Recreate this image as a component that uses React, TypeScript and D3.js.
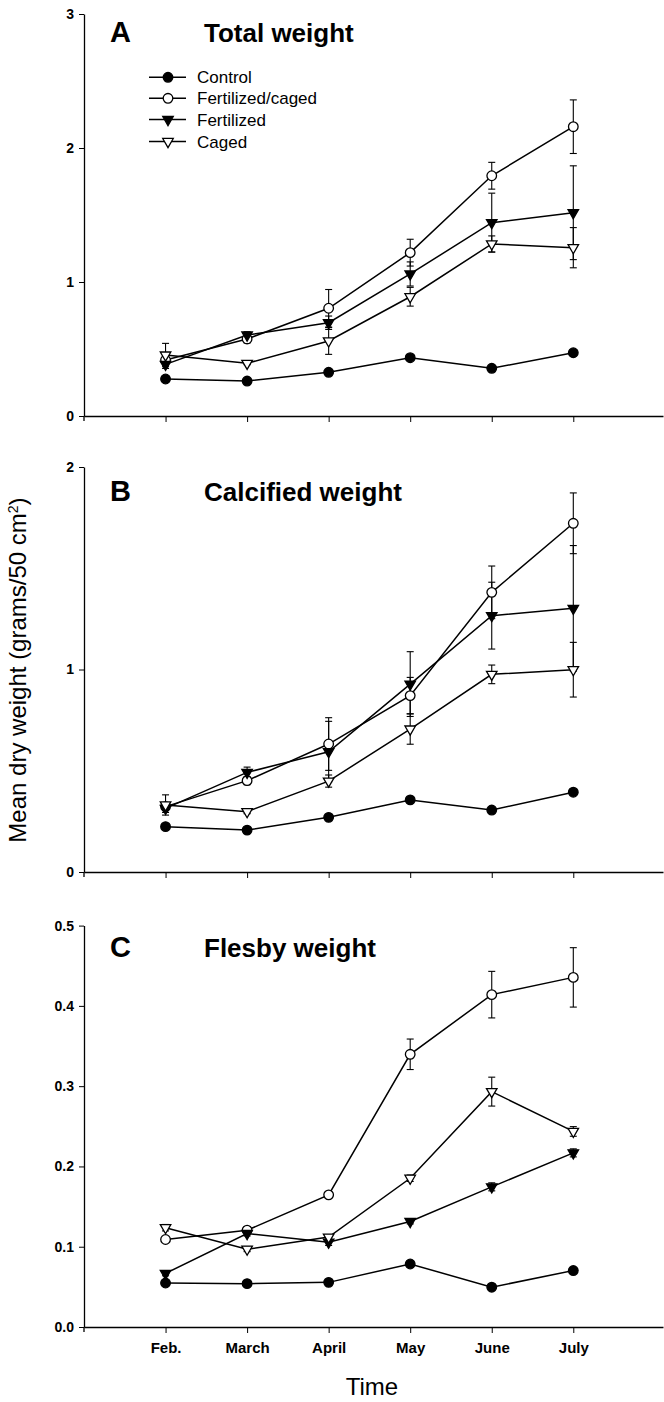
import React, { useEffect, useRef } from 'react';
import * as d3 from 'd3';

// months on the x axis
const months = ['Feb.', 'March', 'April', 'May', 'June', 'July'];
const seriesNames = ['Control', 'Fertilized/caged', 'Fertilized', 'Caged'];

// A - total weight
const totalControl = [0.276, 0.261, 0.326, 0.435, 0.356, 0.472];
const totalFertCaged = [0.418, 0.575, 0.804, 1.219, 1.793, 2.159];
const totalFert = [0.385, 0.604, 0.696, 1.06, 1.443, 1.517];
const totalCaged = [0.455, 0.393, 0.56, 0.89, 1.284, 1.256];
const totalControlErr = [0.005, 0.005, 0.005, 0.005, 0.005, 0.005];
const totalFertCagedErr = [0.03, 0.03, 0.14, 0.1, 0.1, 0.2];
const totalFertErr = [0.03, 0.025, 0.05, 0.09, 0.22, 0.35];
const totalCagedErr = [0.087, 0.01, 0.1, 0.07, 0.06, 0.15];

// B - calcified weight
const calcControl = [0.224, 0.207, 0.27, 0.356, 0.306, 0.394];
const calcFertCaged = [0.323, 0.451, 0.632, 0.871, 1.381, 1.722];
const calcFert = [0.314, 0.492, 0.594, 0.928, 1.266, 1.302];
const calcCaged = [0.331, 0.298, 0.449, 0.706, 0.976, 0.999];
const calcControlErr = [0.005, 0.005, 0.005, 0.005, 0.005, 0.005];
const calcFertCagedErr = [0.02, 0.02, 0.13, 0.09, 0.13, 0.15];
const calcFertErr = [0.02, 0.026, 0.15, 0.16, 0.165, 0.31];
const calcCagedErr = [0.05, 0.01, 0.03, 0.075, 0.046, 0.135];

// C - fleshy weight
const fleshControl = [0.0548, 0.054, 0.0556, 0.0785, 0.0496, 0.0703];
const fleshFertCaged = [0.109, 0.1206, 0.1646, 0.3397, 0.414, 0.4355];
const fleshFert = [0.0668, 0.1164, 0.1056, 0.1314, 0.1746, 0.2169];
const fleshCaged = [0.1237, 0.0969, 0.112, 0.1853, 0.2932, 0.2436];
const fleshControlErr = [0.003, 0.003, 0.003, 0.003, 0.003, 0.003];
const fleshFertCagedErr = [0.003, 0.003, 0.003, 0.019, 0.029, 0.037];
const fleshFertErr = [0.003, 0.003, 0.004, 0.003, 0.005, 0.005];
const fleshCagedErr = [0.004, 0.003, 0.003, 0.004, 0.018, 0.006];

const shapes = ['dot', 'circle', 'tri', 'otri'];
const font = "'Liberation Sans', Arial, Helvetica, sans-serif";

const panels = [
  {
    letter: 'A', title: 'Total weight', max: 3, ticks: [0, 1, 2, 3], fmt: d3.format('d'),
    top: 14, bottom: 416, titleY: 42, labels: false, legend: true,
    values: [totalControl, totalFertCaged, totalFert, totalCaged],
    errs: [totalControlErr, totalFertCagedErr, totalFertErr, totalCagedErr]
  },
  {
    letter: 'B', title: 'Calcified weight', max: 2, ticks: [0, 1, 2], fmt: d3.format('d'),
    top: 467, bottom: 872, titleY: 501, labels: false, legend: false,
    values: [calcControl, calcFertCaged, calcFert, calcCaged],
    errs: [calcControlErr, calcFertCagedErr, calcFertErr, calcCagedErr]
  },
  {
    letter: 'C', title: 'Flesby weight', max: 0.5, ticks: [0, 0.1, 0.2, 0.3, 0.4, 0.5], fmt: d3.format('.1f'),
    top: 925.6, bottom: 1327, titleY: 957, labels: true, legend: false,
    values: [fleshControl, fleshFertCaged, fleshFert, fleshCaged],
    errs: [fleshControlErr, fleshFertCagedErr, fleshFertErr, fleshCagedErr]
  }
];

function marker(g, shape, cx, cy) {
  if (shape === 'dot' || shape === 'circle') {
    g.append('circle')
      .attr('cx', cx).attr('cy', cy).attr('r', 4.8)
      .attr('fill', shape === 'dot' ? '#000' : '#fff')
      .attr('stroke', '#000').attr('stroke-width', 1.3);
  } else {
    g.append('path')
      .attr('d', d3.symbol().type(d3.symbolTriangle).size(48)())
      .attr('transform', 'translate(' + cx + ',' + cy + ') rotate(180)')
      .attr('fill', shape === 'tri' ? '#000' : '#fff')
      .attr('stroke', '#000').attr('stroke-width', 1.3);
  }
}

export default function App() {
  const ref = useRef<SVGSVGElement>(null);

  useEffect(() => {
    const svg = d3.select(ref.current);
    svg.selectAll('*').remove();

    const x = d3.scaleLinear().domain([-1, 6.1]).range([84, 663]);
    const idx = months.map((m, i) => i);

    panels.forEach((p) => {
      const y = d3.scaleLinear().domain([0, p.max]).range([p.bottom, p.top]);
      const g = svg.append('g');

      // axes
      const xa = g.append('g')
        .attr('transform', 'translate(0,' + p.bottom + ')')
        .call(d3.axisBottom(x).tickValues(idx).tickSize(6).tickSizeOuter(0).tickPadding(9)
          .tickFormat((d) => (p.labels ? months[d] : '')));
      xa.select('.domain').attr('stroke-width', 1.6);
      xa.selectAll('text').attr('font-family', font).attr('font-size', 15).attr('font-weight', 'bold');

      const ya = g.append('g')
        .attr('transform', 'translate(84,0)')
        .call(d3.axisLeft(y).tickValues(p.ticks).tickSize(5).tickPadding(5).tickSizeOuter(0).tickFormat(p.fmt));
      ya.select('.domain').attr('stroke-width', 1.3);
      ya.selectAll('text').attr('font-family', font).attr('font-size', 14).attr('font-weight', 'bold');
      g.append('line').attr('x1', 84).attr('x2', 84).attr('y1', p.bottom).attr('y2', p.bottom + 5)
        .attr('stroke', '#000').attr('stroke-width', 1.3);

      // titles
      g.append('text').attr('x', 110).attr('y', p.titleY).text(p.letter)
        .attr('font-family', font).attr('font-size', 29).attr('font-weight', 'bold');
      g.append('text').attr('x', 204).attr('y', p.titleY).text(p.title)
        .attr('font-family', font).attr('font-size', 26).attr('font-weight', 'bold');

      // error bars
      p.values.forEach((vals, s) => {
        const err = p.errs[s];
        vals.forEach((v, i) => {
          const cx = x(i);
          g.append('line').attr('x1', cx).attr('x2', cx)
            .attr('y1', y(v - err[i])).attr('y2', y(v + err[i]))
            .attr('stroke', '#000').attr('stroke-width', 1.1);
          [v - err[i], v + err[i]].forEach((e) => {
            g.append('line').attr('x1', cx - 3.5).attr('x2', cx + 3.5)
              .attr('y1', y(e)).attr('y2', y(e))
              .attr('stroke', '#000').attr('stroke-width', 1.1);
          });
        });
      });

      // lines
      const line = d3.line<number>().x((d, i) => x(i)).y((d) => y(d));
      p.values.forEach((vals) => {
        g.append('path').attr('d', line(vals)).attr('fill', 'none')
          .attr('stroke', '#000').attr('stroke-width', 1.5);
      });

      // markers
      p.values.forEach((vals, s) => {
        vals.forEach((v, i) => marker(g, shapes[s], x(i), y(v)));
      });

      if (p.legend) {
        const rows = [77.3, 98.3, 119.5, 141.5];
        seriesNames.forEach((name, s) => {
          g.append('line').attr('x1', 149).attr('x2', 186).attr('y1', rows[s]).attr('y2', rows[s])
            .attr('stroke', '#000').attr('stroke-width', 1.5);
          marker(g, shapes[s], 168, rows[s]);
          g.append('text').attr('x', 197).attr('y', rows[s] + 6).text(name)
            .attr('font-family', font).attr('font-size', 17);
        });
      }
    });

    // shared axis titles
    svg.append('text')
      .attr('transform', 'translate(26,670) rotate(-90)')
      .attr('text-anchor', 'middle')
      .attr('font-family', font).attr('font-size', 24)
      .call((t) => {
        t.append('tspan').text('Mean dry weight (grams/50 cm');
        t.append('tspan').attr('dy', -8).attr('font-size', 14).text('2');
        t.append('tspan').attr('dy', 8).text(')');
      });

    svg.append('text')
      .attr('x', 372).attr('y', 1395)
      .attr('text-anchor', 'middle')
      .attr('font-family', font).attr('font-size', 24)
      .text('Time');
  }, []);

  return (
    <svg ref={ref} width={664} height={1402}
      style={{ position: 'absolute', left: 0, top: 0, background: '#fff' }} />
  );
}
